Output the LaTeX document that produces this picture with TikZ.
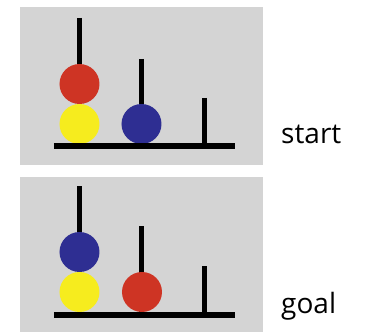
\documentclass[tikz,border=0pt]{standalone}
\usepackage{fontspec}
\setsansfont{Open Sans}
\usetikzlibrary{positioning}
\definecolor{panelgray}{RGB}{212,212,212}
\definecolor{diskred}{RGB}{206,52,36}
\definecolor{diskyellow}{RGB}{246,236,30}
\definecolor{diskblue}{RGB}{46,46,146}
\tikzset{%
	panel/.style={fill=panelgray, draw=none},
	disk/.style={circle, minimum size=40pt, inner sep=0pt, draw=none},
	peg/.style={line width=5pt},
	base/.style={line width=6pt},
	caption/.style={font=\sffamily\fontsize{28}{28}\selectfont, anchor=base west, inner sep=0pt}
}

\begin{document}
\begin{tikzpicture}[x=1pt, y=-1pt]
	\useasboundingbox (0,0) rectangle (368,332);

	% start
	\fill[panel] (20,7) rectangle (263,165);
	\coordinate (sb1) at (54,146);
	\coordinate (sb2) at (235,146);
	\coordinate (sp1) at (79.5,18);
	\coordinate (sp2) at (141.8,59);
	\coordinate (sp3) at (204.5,98);
	\draw[peg] (sp1) -- (sp1 |- sb1);
	\draw[peg] (sp2) -- (sp2 |- sb1);
	\draw[peg] (sp3) -- (sp3 |- sb1);
	\node[disk, fill=diskyellow] (sy) at (79.5,124) {};
	\node[disk, fill=diskred] (sr) at (79.5,84) {};
	\node[disk, fill=diskblue] (sbl) at (141.5,124) {};
	\draw[base] (sb1) -- (sb2);
	\node[caption] (start) at (281,143) {start};

	% goal
	\begin{scope}[shift={(0,168.5)}]
		\fill[panel] (20,8.5) rectangle (263,170);
		\coordinate (gb1) at (54,146.5);
		\coordinate (gb2) at (235,146.5);
		\coordinate (gp1) at (79.5,18);
		\coordinate (gp2) at (141.8,58);
		\coordinate (gp3) at (204.5,98);
		\draw[peg] (gp1) -- (gp1 |- gb1);
		\draw[peg] (gp2) -- (gp2 |- gb1);
		\draw[peg] (gp3) -- (gp3 |- gb1);
		\node[disk, fill=diskyellow] (gy) at (79.5,123.5) {};
		\node[disk, fill=diskblue] (gbl) at (79.5,83.5) {};
		\node[disk, fill=diskred] (gr) at (142,123.5) {};
		\draw[base] (gb1) -- (gb2);
		\node[caption] (goal) at (281,144.5) {goal};
	\end{scope}
\end{tikzpicture}
\end{document}
